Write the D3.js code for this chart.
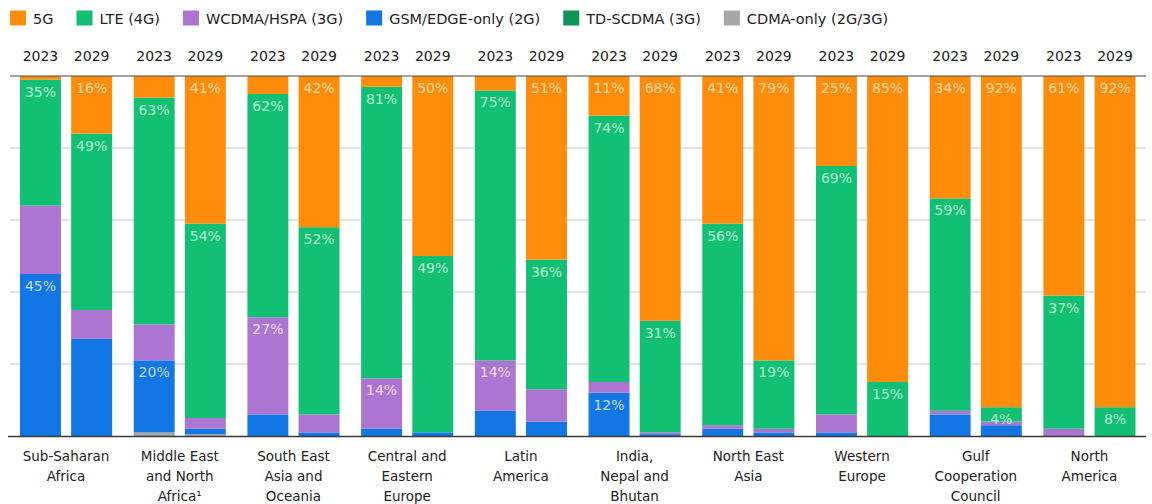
<!DOCTYPE html>
<html lang="en">
<head>
    <meta charset="UTF-8">
    <script src="https://d3js.org/d3.v7.min.js"></script>
    <title>Mobile subscriptions by technology</title>
    <style>
        body { margin: 0; background: white; }
        text { font-family: "DejaVu Sans", sans-serif; }
    </style>
</head>
<body>
<div id="chart"></div>
<script>
    // regions, each with a 2023 and a 2029 bar
    var regions = [
        ["Sub-Saharan", "Africa"],
        ["Middle East", "and North", "Africa\u00B9"],
        ["South East", "Asia and", "Oceania"],
        ["Central and", "Eastern", "Europe"],
        ["Latin", "America"],
        ["India,", "Nepal and", "Bhutan"],
        ["North East", "Asia"],
        ["Western", "Europe"],
        ["Gulf", "Cooperation", "Council"],
        ["North", "America"]
    ];
    var years = ["2023", "2029"];

    // share in %, order: region 1 (2023, 2029), region 2 (2023, 2029) ...
    var cdma  = [0, 0,   1, 0.5, 0, 0,  0, 0,  0, 0,  0, 0,    0, 0,  0, 0,  0, 0,  0, 0];
    var gsm   = [45, 27, 20, 1.5, 6, 1, 2, 1,  7, 4,  12, 0.5, 2, 1,  1, 0,  6, 3,  0, 0];
    var tdscdma = [0, 0, 0, 0,   0, 0,  0, 0,  0, 0,  0, 0,    0, 0,  0, 0,  0, 0,  0, 0];
    var wcdma = [19, 8,  10, 3,  27, 5, 14, 0, 14, 9, 3, 0.5,  1, 1,  5, 0,  1, 1,  2, 0];
    var lte   = [35, 49, 63, 54, 62, 52, 81, 49, 75, 36, 74, 31, 56, 19, 69, 15, 59, 4, 37, 8];
    var fiveG = [1, 16,  6, 41,  5, 42, 3, 50, 4, 51, 11, 68,  41, 79, 25, 85, 34, 92, 61, 92];

    // which segments carry a value label on each bar
    var labelled = [
        ["lte", "gsm"], ["fiveG", "lte"],
        ["lte", "gsm"], ["fiveG", "lte"],
        ["lte", "wcdma"], ["fiveG", "lte"],
        ["lte", "wcdma"], ["fiveG", "lte"],
        ["lte", "wcdma"], ["fiveG", "lte"],
        ["fiveG", "lte", "gsm"], ["fiveG", "lte"],
        ["fiveG", "lte"], ["fiveG", "lte"],
        ["fiveG", "lte"], ["fiveG", "lte"],
        ["fiveG", "lte"], ["fiveG", "lte"],
        ["fiveG", "lte"], ["fiveG", "lte"]
    ];

    var series = [
        {key: "fiveG", name: "5G", color: "#FF8C0A", light: "#FFD9A6"},
        {key: "lte", name: "LTE (4G)", color: "#12C074", light: "#B4F2CF"},
        {key: "wcdma", name: "WCDMA/HSPA (3G)", color: "#AB75D1", light: "#F1DCFF"},
        {key: "gsm", name: "GSM/EDGE-only (2G)", color: "#1276E4", light: "#BFDDFF"},
        {key: "tdscdma", name: "TD-SCDMA (3G)", color: "#0E9455", light: "#B4F2CF"},
        {key: "cdma", name: "CDMA-only (2G/3G)", color: "#A6A6A6", light: "#eeeeee"}
    ];
    var valuesByKey = {fiveG: fiveG, lte: lte, wcdma: wcdma, gsm: gsm, tdscdma: tdscdma, cdma: cdma};
    // bottom to top
    var stackKeys = ["cdma", "gsm", "tdscdma", "wcdma", "lte", "fiveG"];

    var rows = [];
    regions.forEach(function(r, i) {
        years.forEach(function(y, j) {
            var idx = i * 2 + j;
            var row = {region: i, year: y, idx: idx};
            stackKeys.forEach(function(k) { row[k] = valuesByKey[k][idx]; });
            rows.push(row);
        });
    });

    var width = 1152, height = 504;
    var svg = d3.select("#chart").append("svg")
        .attr("width", width)
        .attr("height", height);

    var x0 = d3.scaleBand().domain(d3.range(regions.length))
        .range([20, 1135.5]).paddingInner(0.19).paddingOuter(0);
    var x1 = d3.scaleBand().domain(years)
        .range([0, x0.bandwidth()]).paddingInner(0.2).paddingOuter(0);
    var y = d3.scaleLinear().domain([0, 100]).range([436, 76]);

    // gridlines
    var grid = svg.append("g");
    grid.selectAll("line").data([20, 40, 60, 80]).enter().append("line")
        .attr("x1", 10).attr("x2", 1146)
        .attr("y1", function(d) { return y(d); })
        .attr("y2", function(d) { return y(d); })
        .attr("stroke", "#c9c9c9").attr("stroke-width", 1);

    var stacked = d3.stack().keys(stackKeys)(rows);
    var colorOf = {};
    var lightOf = {};
    series.forEach(function(s) { colorOf[s.key] = s.color; lightOf[s.key] = s.light; });

    var layers = svg.append("g").selectAll("g").data(stacked).enter().append("g")
        .attr("fill", function(d) { return colorOf[d.key]; });
    layers.selectAll("rect").data(function(d) { return d; }).enter().append("rect")
        .attr("x", function(d) { return x0(d.data.region) + x1(d.data.year); })
        .attr("width", x1.bandwidth())
        .attr("y", function(d) { return y(d[1]); })
        .attr("height", function(d) { return Math.max(0, y(d[0]) - y(d[1])); });

    // value labels near the top of each labelled segment
    var labelData = [];
    stacked.forEach(function(layer) {
        layer.forEach(function(d) {
            if (labelled[d.data.idx].indexOf(layer.key) >= 0) {
                labelData.push({key: layer.key, top: d[1], v: d.data[layer.key], row: d.data});
            }
        });
    });
    svg.append("g").selectAll("text").data(labelData).enter().append("text")
        .attr("x", function(d) { return x0(d.row.region) + x1(d.row.year) + x1.bandwidth() / 2; })
        .attr("y", function(d) { return y(d.top) + 17; })
        .attr("text-anchor", "middle")
        .attr("font-size", "14px")
        .attr("fill", function(d) { return lightOf[d.key]; })
        .text(function(d) { return Math.round(d.v) + "%"; });

    // top and base lines
    svg.append("line").attr("x1", 10).attr("x2", 1146).attr("y1", y(100)).attr("y2", y(100))
        .attr("stroke", "#4a4a4a").attr("stroke-width", 1.2);
    svg.append("line").attr("x1", 8).attr("x2", 1146).attr("y1", y(0) + 0.5).attr("y2", y(0) + 0.5)
        .attr("stroke", "#3a3a3a").attr("stroke-width", 1.4);

    // year labels
    svg.append("g").selectAll("text").data(rows).enter().append("text")
        .attr("x", function(d) { return x0(d.region) + x1(d.year) + x1.bandwidth() / 2; })
        .attr("y", 60.5)
        .attr("text-anchor", "middle")
        .attr("font-family", "DejaVu Sans Mono")
        .attr("font-size", "14px")
        .attr("fill", "#222")
        .text(function(d) { return d.year; });

    // region labels
    var regionText = svg.append("g").selectAll("text").data(regions).enter().append("text")
        .attr("x", function(d, i) { return x0(i) + x0.bandwidth() / 2; })
        .attr("y", 461)
        .attr("text-anchor", "middle")
        .attr("font-size", "13.5px")
        .attr("fill", "#222");
    regionText.selectAll("tspan").data(function(d) { return d; }).enter().append("tspan")
        .attr("x", function() { return d3.select(this.parentNode).attr("x"); })
        .attr("dy", function(d, i) { return i === 0 ? 0 : 20; })
        .text(function(d) { return d; });

    // legend
    var legend = svg.append("g");
    var lx = 10;
    series.forEach(function(s) {
        var item = legend.append("g").attr("transform", "translate(" + lx + ",0)");
        item.append("rect").attr("x", 0).attr("y", 10.5).attr("width", 16).attr("height", 15)
            .attr("fill", s.color);
        var t = item.append("text").attr("x", 23).attr("y", 24)
            .attr("font-size", "14.5px").attr("fill", "#222").text(s.name);
        lx += 23 + t.node().getComputedTextLength() + 23;
    });
</script>
</body>
</html>
